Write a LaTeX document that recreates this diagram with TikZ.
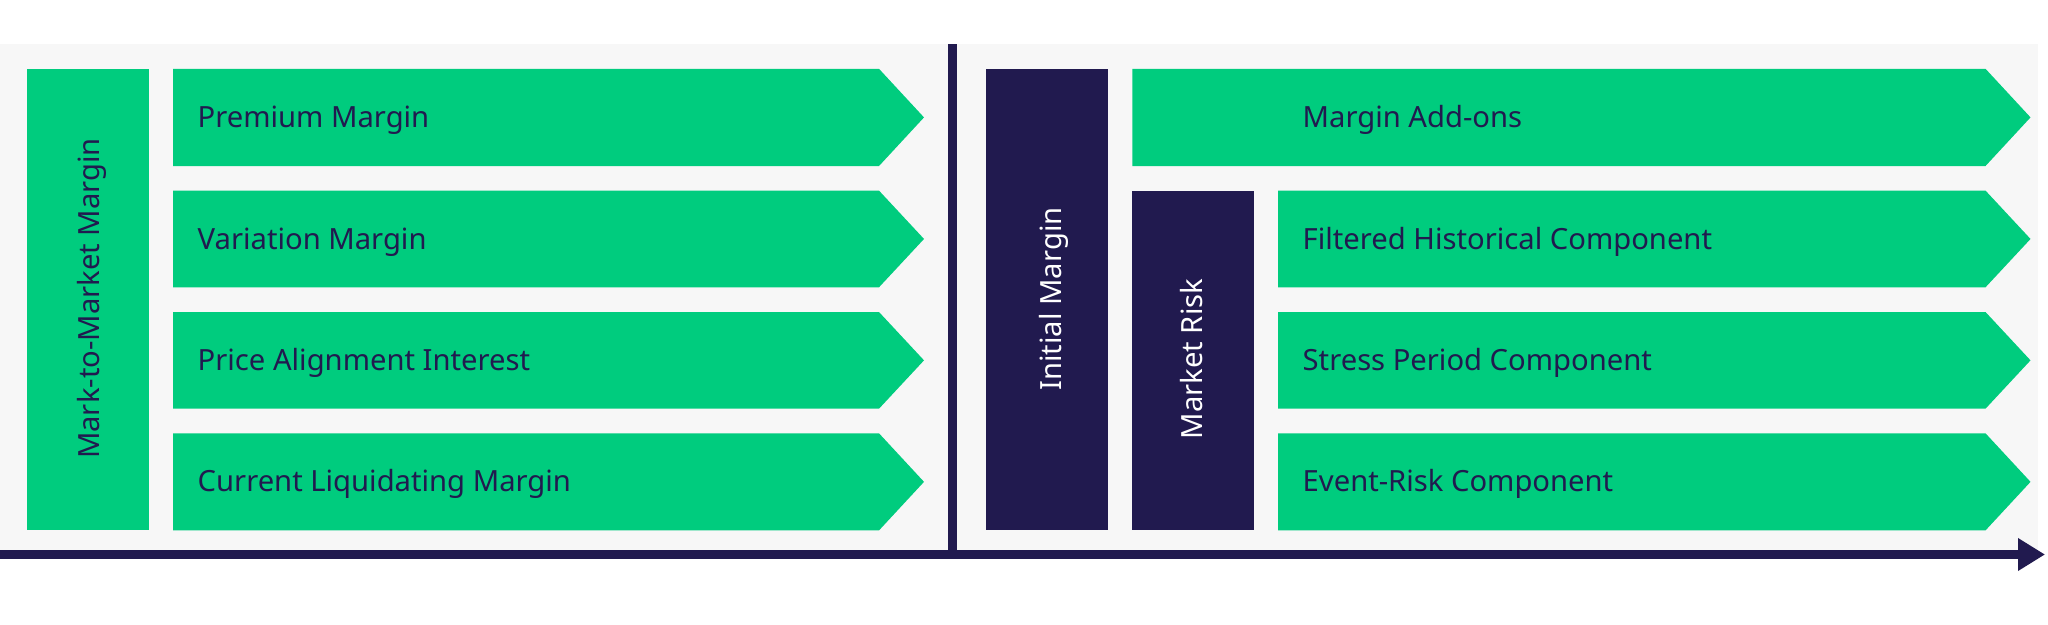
\documentclass[tikz,border=0pt]{standalone}
\usepackage{fontspec}
\setmainfont{Noto Sans}
\usetikzlibrary{arrows.meta}
\definecolor{mgreen}{HTML}{00CC7E}
\definecolor{mnavy}{HTML}{211A4F}
\definecolor{mgray}{HTML}{F7F7F7}
\newcommand{\mychev}[4]{\fill[mgreen] (#1,#3) -- (#2,#3) -- ({#2+45},{(#3+#4)/2}) -- (#2,#4) -- (#1,#4) -- cycle;}
\begin{document}
\begin{tikzpicture}[x=1pt,y=-1pt,
  lbl/.style={font=\fontsize{29.2}{35}\selectfont, text=mnavy, anchor=base west, inner sep=0pt},
  vlbl/.style={font=\fontsize{29.2}{35}\selectfont, rotate=90, anchor=base, inner sep=0pt},
  bar/.style={fill=mnavy}]
\useasboundingbox (0,0) rectangle (2048,624);
\fill[white] (0,0) rectangle (2048,624);
\fill[mgray] (0,44.3) rectangle (2037.7,550);
% left box
\fill[mgreen] (26.8,68.8) rectangle (148.9,530.4);
\node[vlbl, text=mnavy] (mtm) at (99.5,298.5) {Mark-to-Market Margin};
% left chevrons
\mychev{173}{879}{68.8}{166}
\mychev{173}{879}{190.6}{287.3}
\mychev{173}{879}{312}{408.7}
\mychev{173}{879}{433.3}{530.4}
\node[lbl] (pm) at (197.5,127.4) {Premium Margin};
\node[lbl] (vm) at (197.5,249) {Variation Margin};
\node[lbl] (pai) at (197.5,370.4) {Price Alignment Interest};
\node[lbl] (clm) at (197.5,491.9) {Current Liquidating Margin};
% divider
\fill[mnavy] (948.2,44.3) rectangle (956.8,552);
% initial margin
\fill[bar] (986,69.3) rectangle (1107.6,530.4);
\node[vlbl, text=white] (im) at (1061.5,299) {Initial Margin};
\mychev{1132.4}{1985.5}{68.8}{166}
\node[lbl] (mao) at (1302.5,127.4) {Margin Add-ons};
% market risk
\fill[bar] (1132.4,190.6) rectangle (1253.9,530.4);
\node[vlbl, text=white] (mr) at (1202.5,359) {Market Risk};
\mychev{1278}{1985.5}{190.6}{287.3}
\mychev{1278}{1985.5}{312}{408.7}
\mychev{1278}{1985.5}{433.3}{530.4}
\node[lbl] (fhc) at (1302.5,249) {Filtered Historical Component};
\node[lbl] (spc) at (1302.5,370.4) {Stress Period Component};
\node[lbl] (erc) at (1302.5,491.9) {Event-Risk Component};
% axis
\coordinate (ax0) at (0,554.5);
\coordinate (ax1) at (2045,554.5);
\draw[mnavy, line width=9pt, -{Triangle[length=27pt,width=31pt]}] (ax0) -- (ax1);
\end{tikzpicture}
\end{document}
